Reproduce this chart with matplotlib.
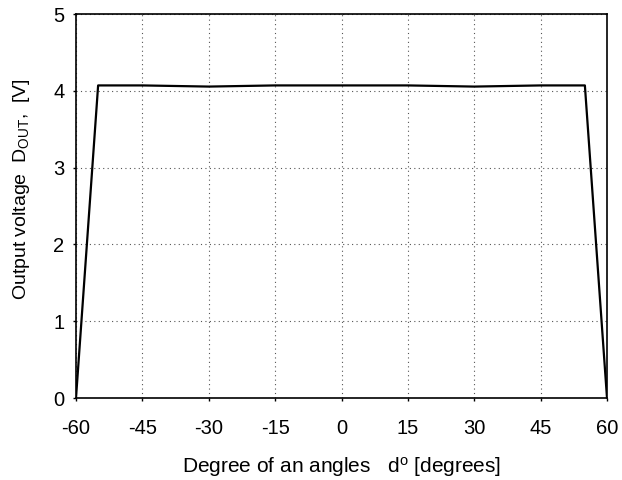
import matplotlib
matplotlib.use("Agg")
import matplotlib.pyplot as plt

plt.rcParams['font.family'] = ['Liberation Sans', 'DejaVu Sans']
plt.rcParams['mathtext.fontset'] = 'custom'
plt.rcParams['mathtext.rm'] = 'Liberation Sans'
plt.rcParams['mathtext.it'] = 'Liberation Sans'

angles = [-60, -55, -45, -30, -15, 0, 15, 30, 45, 55, 60]
voltage = [0, 4.07, 4.07, 4.055, 4.07, 4.07, 4.07, 4.055, 4.07, 4.07, 0]
xticks = [-60, -45, -30, -15, 0, 15, 30, 45, 60]
yticks = [0, 1, 2, 3, 4, 5]

fig = plt.figure(figsize=(6.22, 4.80), dpi=100)
ax = fig.add_axes([76/622, 1 - 398/480, (607-76)/622, (398-14)/480])
ax.plot(angles, voltage, color='black', linewidth=1.6)
ax.set_xlim(-60, 60)
ax.set_ylim(0, 5)
ax.set_xticks(xticks)
ax.set_yticks(yticks)
ax.set_xticklabels([str(t) for t in xticks])
ax.grid(True, linestyle=(0, (1, 3)), color='#555555', linewidth=0.8)
ax.tick_params(direction='out', length=2.2, width=1, labelsize=14.5)
ax.tick_params(axis='x', pad=13)
ax.tick_params(axis='y', pad=6)
for s in ax.spines.values():
    s.set_linewidth(1.2)
ax.set_xlabel(r'Degree of an angles   d$^{\mathrm{o}}$ [degrees]', fontsize=15, labelpad=12)
ax.set_ylabel(r'Output voltage  D$_{\mathrm{OUT}}$,  [V]', fontsize=14)
ax.yaxis.set_label_coords(-0.082, 0.545)
fig.savefig('out.png', dpi=100)
